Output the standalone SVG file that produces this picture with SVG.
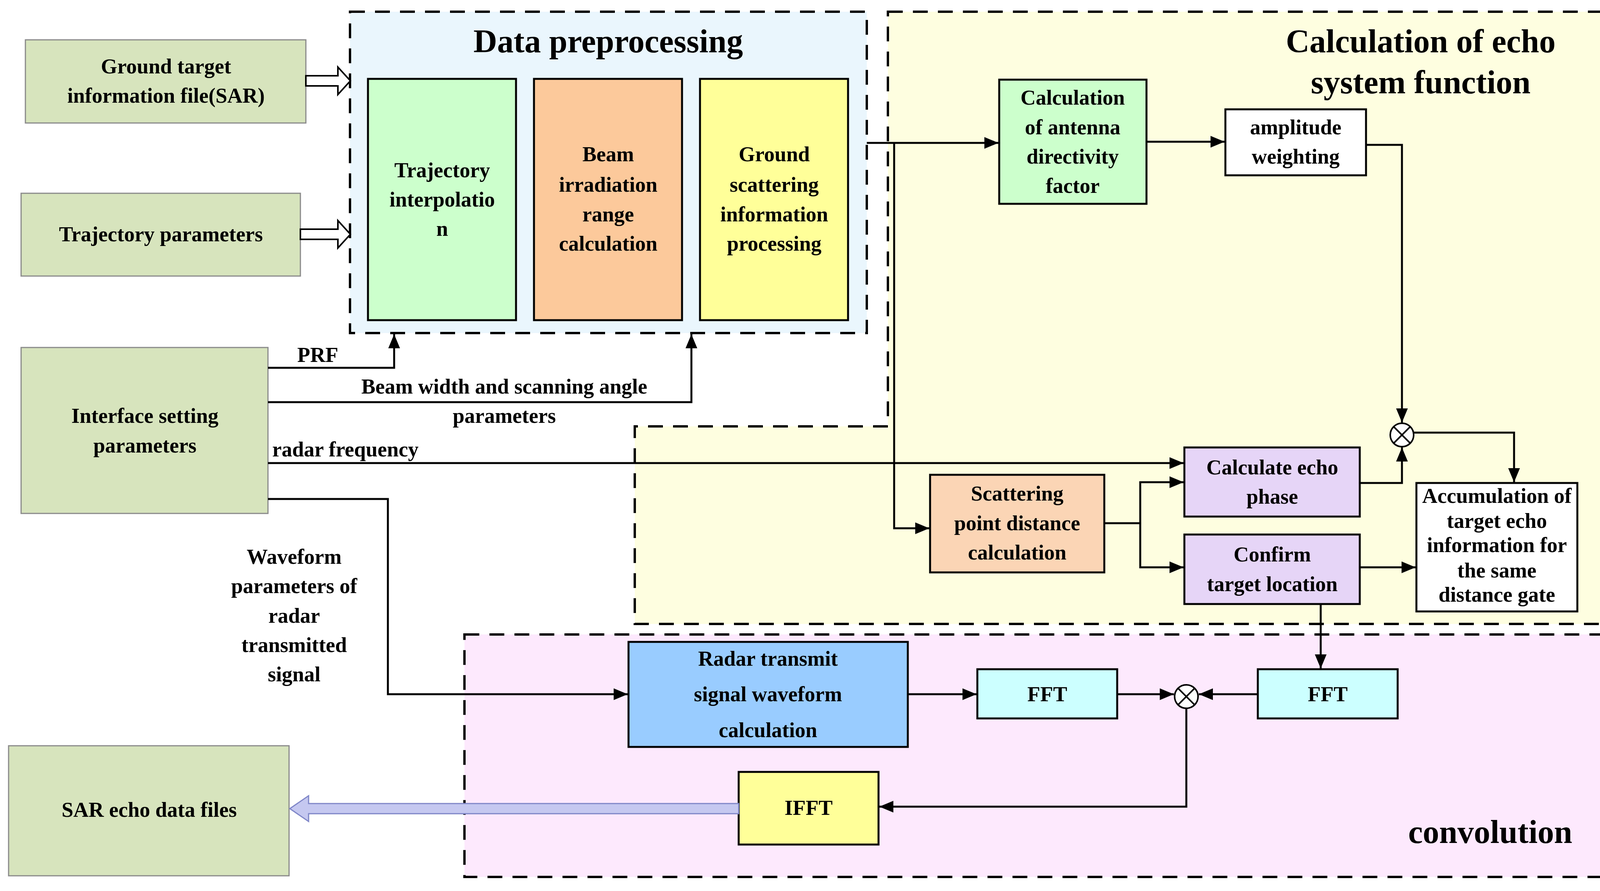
<svg xmlns="http://www.w3.org/2000/svg" width="4218" height="2282" viewBox="0 0 4218 2282">
<defs>
<marker id="ah" markerUnits="userSpaceOnUse" markerWidth="40" markerHeight="30" refX="36" refY="15" orient="auto">
<path d="M0,0 L36,15 L0,30 Z" fill="#000"/>
</marker>
</defs>
<style>
.t{font-family:"Liberation Serif","Times New Roman",serif;font-weight:bold;font-size:54px;fill:#000;text-anchor:middle;dominant-baseline:central}
.l{text-anchor:start}
.big{font-size:84px}
.node{stroke:#000;stroke-width:5}
.gn{fill:#D7E4BD;stroke:#8a8a8a;stroke-width:3}
.dash{stroke:#000;stroke-width:6;stroke-dasharray:38 26}
.c{fill:none;stroke:#000;stroke-width:5}
.a{marker-end:url(#ah)}
.h{fill:#fff;stroke:#000;stroke-width:4}
</style>
<rect width="4218" height="2282" fill="#fff"/>
<g id="regions">
<path d="M2273,30 H4191 V1598 H1625 V1092 H2273 Z" fill="#FEFEE0"/>
<rect x="1189" y="1625" width="3002" height="621" fill="#FDE9FD"/>
<rect x="896" y="30" width="1323" height="823" fill="#EAF6FD"/>
<rect x="896" y="30" width="1323" height="823" fill="none" class="dash"/>
<path d="M2273,30 H4191 V1598 H1625 V1092 H2273 Z" fill="none" class="dash"/>
<rect x="1189" y="1625" width="3002" height="621" fill="none" class="dash"/>
<text class="t big" x="1557" y="105">Data preprocessing</text>
<text class="t big" x="3637" y="105">Calculation of echo</text>
<text class="t big" x="3637" y="210">system function</text>
<text class="t big" x="3815" y="2130">convolution</text>
</g>
<g id="ground"><rect class="gn" x="65" y="102" width="718" height="213"/><text class="t" x="425" y="170">Ground target</text><text class="t" x="425" y="245">information file(SAR)</text></g>
<g id="trajparam"><rect class="gn" x="54" y="495" width="715" height="212"/><text class="t" x="412" y="600">Trajectory parameters</text></g>
<g id="iface"><rect class="gn" x="54" y="890" width="632" height="425"/><text class="t" x="371" y="1065">Interface setting</text><text class="t" x="371" y="1141">parameters</text></g>
<g id="sar"><rect class="gn" x="22" y="1910" width="718" height="333"/><text class="t" x="382" y="2074">SAR echo data files</text></g>
<g id="interp"><rect class="node" fill="#CCFFCC" x="942" y="202" width="379" height="618"/><text class="t" x="1132" y="436">Trajectory</text><text class="t" x="1132" y="511">interpolatio</text><text class="t" x="1132" y="586">n</text></g>
<g id="beam"><rect class="node" fill="#FCC99B" x="1367" y="202" width="379" height="618"/><text class="t" x="1557" y="395">Beam</text><text class="t" x="1557" y="473">irradiation</text><text class="t" x="1557" y="549">range</text><text class="t" x="1557" y="624">calculation</text></g>
<g id="gscat"><rect class="node" fill="#FFFF99" x="1792" y="202" width="379" height="618"/><text class="t" x="1982" y="395">Ground</text><text class="t" x="1982" y="473">scattering</text><text class="t" x="1982" y="549">information</text><text class="t" x="1982" y="624">processing</text></g>
<g id="antenna"><rect class="node" fill="#CCFFCC" x="2558" y="204" width="377" height="318"/><text class="t" x="2746" y="250">Calculation</text><text class="t" x="2746" y="326">of antenna</text><text class="t" x="2746" y="401">directivity</text><text class="t" x="2746" y="476">factor</text></g>
<g id="amp"><rect class="node" fill="#fff" x="3137" y="280" width="360" height="169"/><text class="t" x="3317" y="326">amplitude</text><text class="t" x="3317" y="401">weighting</text></g>
<g id="scatdist"><rect class="node" fill="#FBD5B5" x="2381" y="1216" width="446" height="250"/><text class="t" x="2604" y="1264">Scattering</text><text class="t" x="2604" y="1340">point distance</text><text class="t" x="2604" y="1415">calculation</text></g>
<g id="phase"><rect class="node" fill="#E6D5F7" x="3032" y="1146" width="449" height="177"/><text class="t" x="3257" y="1197">Calculate echo</text><text class="t" x="3257" y="1272">phase</text></g>
<g id="confirm"><rect class="node" fill="#E6D5F7" x="3032" y="1369" width="449" height="178"/><text class="t" x="3257" y="1420">Confirm</text><text class="t" x="3257" y="1496">target location</text></g>
<g id="accum"><rect class="node" fill="#fff" x="3626" y="1237" width="412" height="329"/><text class="t" x="3832" y="1270">Accumulation of</text><text class="t" x="3832" y="1334">target echo</text><text class="t" x="3832" y="1396">information for</text><text class="t" x="3832" y="1461">the same</text><text class="t" x="3832" y="1523">distance gate</text></g>
<g id="mult1"><circle cx="3589" cy="1114" r="30" fill="#fff" stroke="#000" stroke-width="4"/><path d="M3568,1093 L3610,1135 M3610,1093 L3568,1135" stroke="#000" stroke-width="4"/></g>
<g id="radar"><rect class="node" fill="#99CCFF" x="1609" y="1644" width="715" height="269"/><text class="t" x="1966" y="1687" font-size="68">Radar transmit</text><text class="t" x="1966" y="1778" font-size="68">signal waveform</text><text class="t" x="1966" y="1870" font-size="68">calculation</text></g>
<g id="fft1"><rect class="node" fill="#CCFFFF" x="2502" y="1714" width="358" height="126"/><text class="t" x="2681" y="1778">FFT</text></g>
<g id="mult2"><circle cx="3037" cy="1784" r="30" fill="#fff" stroke="#000" stroke-width="4"/><path d="M3016,1763 L3058,1805 M3058,1763 L3016,1805" stroke="#000" stroke-width="4"/></g>
<g id="fft2"><rect class="node" fill="#CCFFFF" x="3220" y="1714" width="358" height="126"/><text class="t" x="3399" y="1778">FFT</text></g>
<g id="ifft"><rect class="node" fill="#FFFF99" x="1891" y="1977" width="358" height="186"/><text class="t" x="2070" y="2069">IFFT</text></g>
<g id="connectors">
<path class="h" d="M783,194 H865 V172 L897,207 L865,242 V220 H783 Z"/>
<path class="h" d="M769,587 H865 V565 L897,600 L865,635 V613 H769 Z"/>
<polyline class="c a" points="686,942 1009,942 1009,856"/>
<polyline class="c a" points="686,1030 1770,1030 1770,856"/>
<polyline class="c a" points="686,1186 3030,1186"/>
<polyline class="c a" points="686,1278 993,1278 993,1778 1607,1778"/>
<polyline class="c a" points="2219,366 2556,366"/>
<polyline class="c a" points="2289,366 2289,1353 2379,1353"/>
<polyline class="c a" points="2935,363 3135,363"/>
<polyline class="c a" points="3497,371 3589,371 3589,1082"/>
<polyline class="c" points="2827,1340 2919,1340"/>
<polyline class="c a" points="2919,1340 2919,1235 3030,1235"/>
<polyline class="c a" points="2919,1340 2919,1453 3030,1453"/>
<polyline class="c a" points="3481,1237 3589,1237 3589,1146"/>
<polyline class="c a" points="3619,1108 3876,1108 3876,1235"/>
<polyline class="c a" points="3481,1453 3624,1453"/>
<polyline class="c a" points="3381,1547 3381,1712"/>
<polyline class="c a" points="2324,1778 2500,1778"/>
<polyline class="c a" points="2860,1778 3005,1778"/>
<polyline class="c a" points="3220,1778 3069,1778"/>
<polyline class="c a" points="3037,1814 3037,2066 2251,2066"/>
<path d="M1891,2058 H790 V2038 L742,2071 L790,2104 V2084 H1891 Z" fill="#C5C8F0" stroke="#7F86C8" stroke-width="3"/>
<text class="t l" x="761" y="909">PRF</text>
<text class="t" x="1291" y="990">Beam width and scanning angle</text>
<text class="t" x="1291" y="1065">parameters</text>
<text class="t l" x="697" y="1151">radar frequency</text>
<text class="t" x="753" y="1426">Waveform</text>
<text class="t" x="753" y="1501">parameters of</text>
<text class="t" x="753" y="1577">radar</text>
<text class="t" x="753" y="1652">transmitted</text>
<text class="t" x="753" y="1727">signal</text>
</g>
</svg>
